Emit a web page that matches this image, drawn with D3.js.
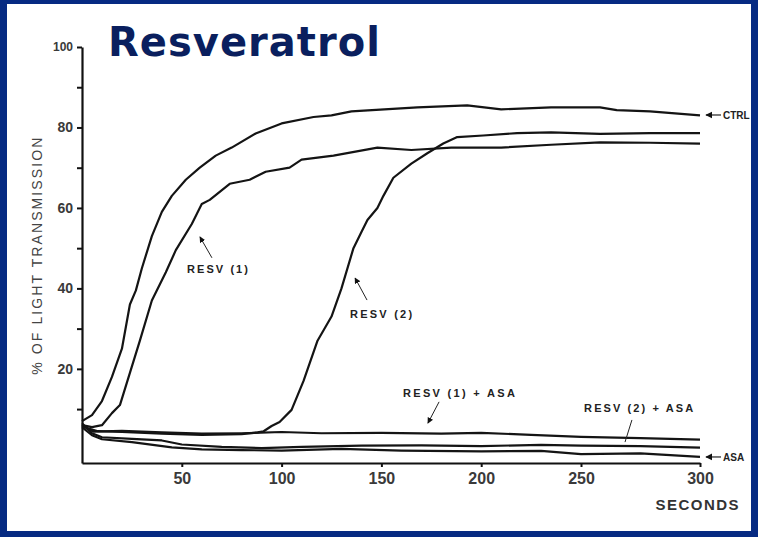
<!DOCTYPE html>
<html>
<head>
<meta charset="utf-8">
<script src="https://cdn.jsdelivr.net/npm/d3@7"></script>
<style>
  body { margin: 0; background: #fff; }
  svg { display: block; }
</style>
</head>
<body>
<div class="chart"></div>
<script>
// traces: [seconds, % light transmission]
const ctrl = [[0,7],[5,8.5],[10,12],[15,18],[20,25],[24,36],[27,39.5],[30,45],[35,53],[40,59],[45,63],[52,67],[59,70],[67,73],[75,75],[87,78.5],[100,81],[116,82.6],[125,83],[135,84],[168,85],[193,85.5],[210,84.5],[235,85],[258,85],[265,84.3],[279,84],[300,83]];
const resv1 = [[0,6],[5,5.5],[10,6],[15,9],[19,11],[24,19],[29,27],[35,37],[42,44],[47,49.5],[55,56],[60,61],[64,62],[74,66],[84,67],[92,69],[104,70],[110,72],[126,73],[148,75],[165,74.4],[185,75],[210,75],[235,75.7],[258,76.3],[279,76.2],[300,76]];
const resv2 = [[0,6],[3,5.2],[8,4.5],[20,4.3],[40,3.9],[60,3.6],[80,3.8],[88,4.2],[91,4.5],[95,5.8],[99,6.8],[105,9.8],[111,17],[118,27],[125,33],[130,40],[136,50],[140,54],[143,57],[148,60],[151,63],[156,67.5],[165,71],[173,73.6],[181,76],[188,77.6],[201,78],[218,78.6],[235,78.8],[258,78.4],[279,78.6],[300,78.6]];
const resv1Asa = [[0,6],[3,5],[6,4.4],[20,4.6],[40,4.2],[60,3.9],[80,4.0],[100,4.3],[120,4.0],[150,4.1],[180,3.9],[200,4.1],[225,3.6],[250,3.1],[275,2.8],[300,2.4]];
const resv2Asa = [[0,6.5],[5,4],[10,3],[25,2.6],[40,2.2],[50,1.2],[70,0.6],[90,0.3],[110,0.6],[140,0.9],[170,1.0],[200,0.8],[230,1.1],[250,0.9],[275,0.8],[300,0.4]];
const asa = [[0,5.5],[5,3.5],[10,2.5],[25,1.8],[45,0.5],[60,0],[80,-0.2],[100,-0.3],[130,0.1],[160,-0.3],[200,-0.5],[230,-0.4],[250,-1.2],[275,-1.0],[300,-1.9]];

const traces = [ctrl, resv1, resv2, resv1Asa, resv2Asa, asa];

// tick values
const xTicks = [50, 100, 150, 200, 250, 300];
const yTicks = [10, 20, 30, 40, 50, 60, 70, 80, 90, 100];

// labels pointing at traces: text anchor, arrow tail, arrow head (data units)
const notes = [
  { text: "RESV (1)", at: [52.6, 43.8], tail: [65.1, 47.6], head: [59.1, 52.8], len: 61 },
  { text: "RESV (2)", at: [134.3, 32.6], tail: [142.8, 37.1], head: [136.8, 42.6], len: 62 },
  { text: "RESV (1) + ASA", at: [160.8, 13.0], tail: [178.9, 11.8], head: [173.3, 6.5], len: 112 },
  { text: "RESV (2) + ASA", at: [251.3, 9.3], tail: [271.4, 7.3], head: [268.5, 1.8], len: 109, thin: true }
];
const endLabels = [
  { text: "CTRL", v: 83.1 },
  { text: "ASA", v: -1.9 }
];

const width = 758, height = 537;
const navy = "#062a82";

const svg = d3.select('.chart')
  .append('svg')
  .attr('width', width)
  .attr('height', height);

// slide frame
svg.append('rect').attr('width', width).attr('height', height).attr('fill', navy);
svg.append('rect')
  .attr('x', 7).attr('y', 4)
  .attr('width', width - 14).attr('height', height - 10)
  .attr('fill', '#fff');

// the scan's x axis is not quite even, so the scale has a knee at 250
const x = d3.scaleLinear().domain([0, 250, 300]).range([82, 581, 700]);
const y = d3.scaleLinear().domain([-3.4, 100]).range([463, 47]);

const line = d3.line()
  .x(d => x(d[0]))
  .y(d => y(d[1]));

svg.selectAll('path.trace')
  .data(traces)
  .enter()
  .append('path')
  .classed('trace', true)
  .attr('d', line)
  .attr('fill', 'none')
  .attr('stroke', '#141414')
  .attr('stroke-width', 2.2)
  .attr('stroke-linejoin', 'round');

// axes
const yAxis = svg.append('g')
  .attr('transform', `translate(${x(0)},0)`)
  .call(d3.axisLeft(y)
    .tickValues(yTicks)
    .tickSize(5)
    .tickSizeOuter(0)
    .tickPadding(4)
    .tickFormat(d => d % 20 === 0 ? d : ""));

const xAxis = svg.append('g')
  .attr('transform', `translate(0,${y(-3.4)})`)
  .call(d3.axisBottom(x)
    .tickValues(xTicks)
    .tickSize(4)
    .tickSizeOuter(0)
    .tickPadding(6));

[yAxis, xAxis].forEach(g => {
  g.select('.domain').attr('stroke', '#111').attr('stroke-width', 2.2);
  g.selectAll('.tick line').attr('stroke', '#111').attr('stroke-width', 2);
  g.selectAll('.tick text')
    .attr('fill', '#3a3a3a')
    .style('font-family', 'Liberation Sans, Arial, sans-serif')
    .style('font-weight', 'bold');
});
yAxis.selectAll('.tick text').style('font-size', d => d === 100 ? '12px' : '14px');
xAxis.selectAll('.tick text').style('font-size', '16px');

// axis titles
svg.append('text')
  .attr('transform', `translate(42,${y(48)}) rotate(-90)`)
  .attr('text-anchor', 'middle')
  .attr('textLength', 237)
  .attr('fill', '#444')
  .style('font-family', 'Liberation Sans, Arial, sans-serif')
  .style('font-size', '14px')
  .text('% OF LIGHT TRANSMISSION');

svg.append('text')
  .attr('x', 697)
  .attr('y', 510)
  .attr('text-anchor', 'middle')
  .attr('textLength', 83)
  .attr('fill', '#333')
  .style('font-family', 'Liberation Sans, Arial, sans-serif')
  .style('font-size', '15px')
  .style('font-weight', 'bold')
  .text('SECONDS');

// slide title
svg.append('text')
  .attr('x', 108)
  .attr('y', 56)
  .attr('textLength', 272)
  .attr('fill', '#0a1f5e')
  .style('font-family', 'DejaVu Sans, Verdana, sans-serif')
  .style('font-size', '40px')
  .style('font-weight', 'bold')
  .text('Resveratrol');

// annotations
const noteFont = g => g
  .attr('fill', '#222')
  .style('font-family', 'Liberation Sans, Arial, sans-serif')
  .style('font-size', '11px')
  .style('font-weight', 'bold');

svg.append('defs').append('marker')
  .attr('id', 'head')
  .attr('viewBox', '0 0 10 10')
  .attr('refX', 9).attr('refY', 5)
  .attr('markerWidth', 6).attr('markerHeight', 6)
  .attr('orient', 'auto')
  .append('path')
  .attr('d', 'M0,0L10,5L0,10z')
  .attr('fill', '#111');

const note = svg.selectAll('g.note')
  .data(notes)
  .enter()
  .append('g')
  .classed('note', true);

note.append('line')
  .attr('x1', d => x(d.tail[0])).attr('y1', d => y(d.tail[1]))
  .attr('x2', d => x(d.head[0])).attr('y2', d => y(d.head[1]))
  .attr('stroke', '#222')
  .attr('stroke-width', 1)
  .attr('marker-end', d => d.thin ? null : 'url(#head)');

note.append('text')
  .attr('x', d => x(d.at[0]))
  .attr('y', d => y(d.at[1]))
  .attr('textLength', d => d.len)
  .call(noteFont)
  .text(d => d.text);

// end labels with arrows back to the trace ends
const ends = svg.selectAll('g.endLabel')
  .data(endLabels)
  .enter()
  .append('g')
  .classed('endLabel', true)
  .attr('transform', d => `translate(${x(300) + 5},${y(d.v)})`);

ends.append('line')
  .attr('x1', 16).attr('x2', 1)
  .attr('stroke', '#222')
  .attr('stroke-width', 1.2)
  .attr('marker-end', 'url(#head)');

ends.append('text')
  .attr('x', 18)
  .attr('y', 4)
  .call(noteFont)
  .style('font-size', '10px')
  .text(d => d.text);
</script>
</body>
</html>
